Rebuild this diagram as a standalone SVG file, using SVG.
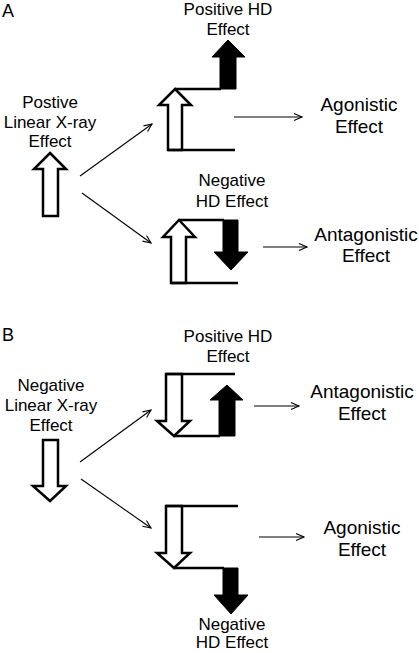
<svg xmlns="http://www.w3.org/2000/svg" width="419" height="653" viewBox="0 0 419 653">
<style>
text{font-family:"Liberation Sans",Arial,sans-serif;fill:#000;text-anchor:middle}
.lbl{font-size:17px}
.big{font-size:19px}
.panel{font-size:18px;text-anchor:start}
.open{fill:#fff;stroke:#000;stroke-width:2.5;stroke-linejoin:miter}
.solid{fill:#000;stroke:#000;stroke-width:1;stroke-linejoin:miter}
.ln{fill:none;stroke:#000;stroke-width:2.5}
.con{fill:none;stroke:#000;stroke-width:1.1}
</style>
<defs>
<marker id="ah" markerUnits="userSpaceOnUse" markerWidth="12" markerHeight="10" refX="9" refY="4" orient="auto">
<path d="M1,0.5 L9,4 L1,7.5" fill="none" stroke="#000" stroke-width="1.1"/>
</marker>
</defs>
<rect width="419" height="653" fill="#fff"/>

<text class="panel" x="2" y="17">A</text>
<text class="panel" x="2" y="341">B</text>

<g id="a-linear">
<text class="lbl" x="50" y="108">Postive</text>
<text class="lbl" x="50" y="128">Linear X-ray</text>
<text class="lbl" x="50" y="147">Effect</text>
<polygon class="open" points="50,153 66,169 58,169 58,216 43,216 43,169 34,169"/>
</g>

<g id="a-positive-hd">
<text class="lbl" x="228" y="15">Positive HD</text>
<text class="lbl" x="228" y="35">Effect</text>
<polygon class="open" points="175,89 191,105 182,105 182,150 168,150 168,105 159,105"/>
<polyline class="ln" points="175,89 221,89"/>
<polyline class="ln" points="168,150 235,150"/>
<polygon class="solid" points="228,40 245,57 236,57 236,89 220,89 220,57 212,57"/>
</g>

<g id="a-negative-hd">
<text class="lbl" x="232" y="186">Negative</text>
<text class="lbl" x="232" y="207">HD Effect</text>
<polygon class="open" points="179,220 195,237 186,237 186,283 171,283 171,237 163,237"/>
<polyline class="ln" points="179,220 224,220"/>
<polyline class="ln" points="171,283 238,283"/>
<polygon class="solid" points="223,220 238,220 238,252 248,252 231,270 214,252 223,252"/>
</g>

<g id="a-agonistic">
<text class="big" x="359" y="111">Agonistic</text>
<text class="big" x="359" y="133">Effect</text>
</g>

<g id="a-antagonistic">
<text class="big" x="366" y="241">Antagonistic</text>
<text class="big" x="366" y="262">Effect</text>
</g>

<g id="b-linear">
<text class="lbl" x="51" y="391">Negative</text>
<text class="lbl" x="51" y="411">Linear X-ray</text>
<text class="lbl" x="51" y="431">Effect</text>
<polygon class="open" points="43,440 58,440 58,486 66,486 50,501 33,486 43,486"/>
</g>

<g id="b-positive-hd">
<text class="lbl" x="228" y="342">Positive HD</text>
<text class="lbl" x="228" y="362">Effect</text>
<polygon class="open" points="166,374 182,374 182,421 190,421 174,436 157,421 166,421"/>
<polyline class="ln" points="166,374 235,374"/>
<polyline class="ln" points="174,436 220,436"/>
<polygon class="solid" points="227,385 243,400 235,400 235,436 219,436 219,400 210,400"/>
</g>

<g id="b-negative-hd">
<text class="lbl" x="232" y="630">Negative</text>
<text class="lbl" x="232" y="648">HD Effect</text>
<polygon class="open" points="166,506 182,506 182,553 190,553 174,568 157,553 166,553"/>
<polyline class="ln" points="166,506 238,506"/>
<polyline class="ln" points="174,568 224,568"/>
<polygon class="solid" points="223,568 238,568 238,595 248,595 231,614 214,595 223,595"/>
</g>

<g id="b-antagonistic">
<text class="big" x="362" y="398">Antagonistic</text>
<text class="big" x="362" y="420">Effect</text>
</g>

<g id="b-agonistic">
<text class="big" x="362" y="534">Agonistic</text>
<text class="big" x="362" y="556">Effect</text>
</g>

<g id="connectors">
<line class="con" x1="80" y1="176" x2="152" y2="124" marker-end="url(#ah)"/>
<line class="con" x1="82" y1="193" x2="151" y2="243" marker-end="url(#ah)"/>
<line class="con" x1="234" y1="117" x2="302" y2="117" marker-end="url(#ah)"/>
<line class="con" x1="263" y1="247" x2="307" y2="247" marker-end="url(#ah)"/>
<line class="con" x1="80" y1="462" x2="151" y2="410" marker-end="url(#ah)"/>
<line class="con" x1="81" y1="479" x2="151" y2="528" marker-end="url(#ah)"/>
<line class="con" x1="254" y1="406" x2="299" y2="406" marker-end="url(#ah)"/>
<line class="con" x1="259" y1="537" x2="304" y2="537" marker-end="url(#ah)"/>
</g>
</svg>
